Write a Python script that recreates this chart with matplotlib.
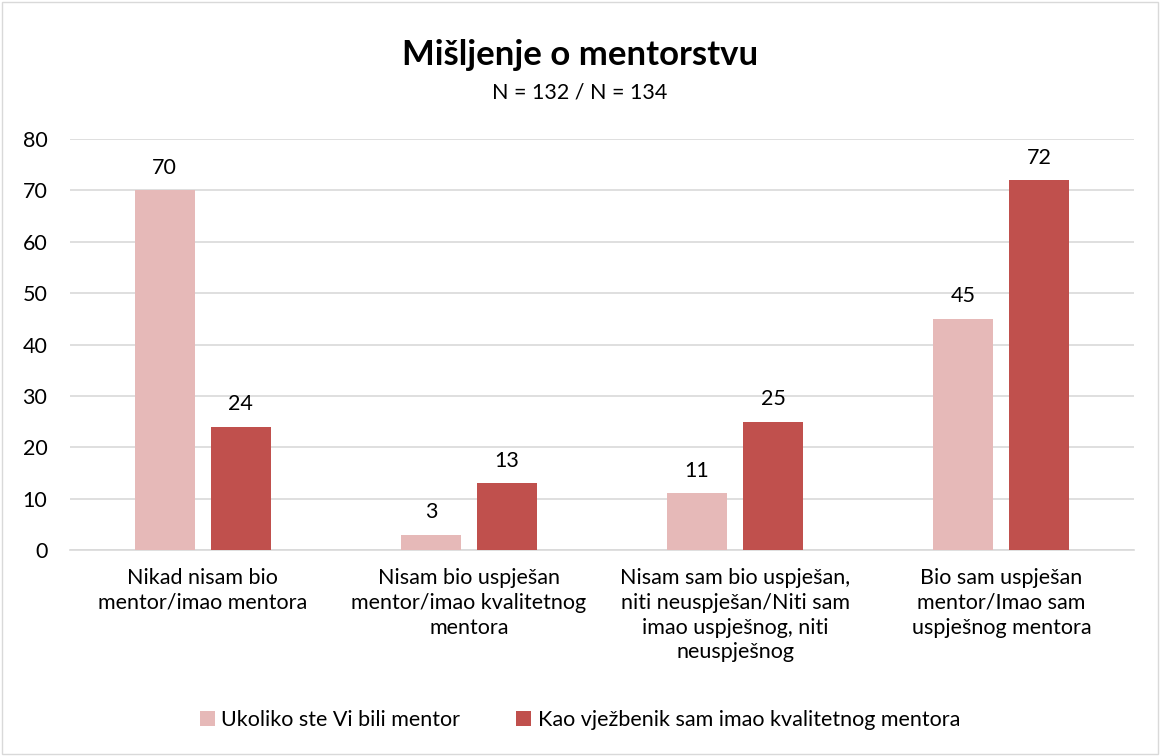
import matplotlib.pyplot as plt
import numpy as np
from matplotlib.patches import Rectangle

plt.rcParams["font.family"] = ["Lato", "DejaVu Sans"]

categories = [
    "Nikad nisam bio\nmentor/imao mentora",
    "Nisam bio uspješan\nmentor/imao kvalitetnog\nmentora",
    "Nisam sam bio uspješan,\nniti neuspješan/Niti sam\nimao uspješnog, niti\nneuspješnog",
    "Bio sam uspješan\nmentor/Imao sam\nuspješnog mentora",
]
mentor = [70, 3, 11, 45]
mentee = [24, 13, 25, 72]
series_names = ["Ukoliko ste Vi bili mentor", "Kao vježbenik sam imao kvalitetnog mentora"]
colors = ["#E6B9B8", "#C0504D"]

fs = 15.5

fig = plt.figure(figsize=(11.6, 7.56), dpi=100)
ax = fig.add_axes([0.060, 0.2725, 0.918, 0.5435])
fig.patches.append(Rectangle((0.002, 0.002), 0.996, 0.996, transform=fig.transFigure,
                             fill=False, edgecolor="#D9D9D9", linewidth=1))

x = np.arange(len(categories))
w = 0.225
off = 0.143
b1 = ax.bar(x - off, mentor, w, color=colors[0], label=series_names[0], zorder=3)
b2 = ax.bar(x + off, mentee, w, color=colors[1], label=series_names[1], zorder=3)
for bars in (b1, b2):
    ax.bar_label(bars, padding=9, fontsize=fs, color="#000000")

ax.set_xlim(-0.5, len(categories) - 0.5)
ax.set_ylim(0, 80)
ax.set_yticks(range(0, 81, 10))
ax.yaxis.grid(True, color="#D9D9D9", linewidth=1.2, zorder=0)
ax.set_xticks(x)
ax.set_xticklabels(categories, fontsize=fs, linespacing=1.3)
ax.tick_params(axis="both", length=0, labelsize=fs)
ax.tick_params(axis="x", pad=13)
ax.tick_params(axis="y", pad=16)
for s in ["top", "right", "left"]:
    ax.spines[s].set_visible(False)
ax.spines["bottom"].set_color("#D9D9D9")
ax.spines["bottom"].set_linewidth(1.2)

fig.text(0.5, 0.927, "Mišljenje o mentorstvu", ha="center", va="center",
         fontsize=25, fontweight="bold")
fig.text(0.5, 0.877, "N = 132 / N = 134", ha="center", va="center", fontsize=fs)

fig.legend(loc="center", bbox_to_anchor=(0.5, 0.047), ncol=2, frameon=False,
           fontsize=fs, handlelength=0.7, handleheight=0.7, columnspacing=2.6,
           handletextpad=0.3)

fig.savefig("out.png", dpi=100)
